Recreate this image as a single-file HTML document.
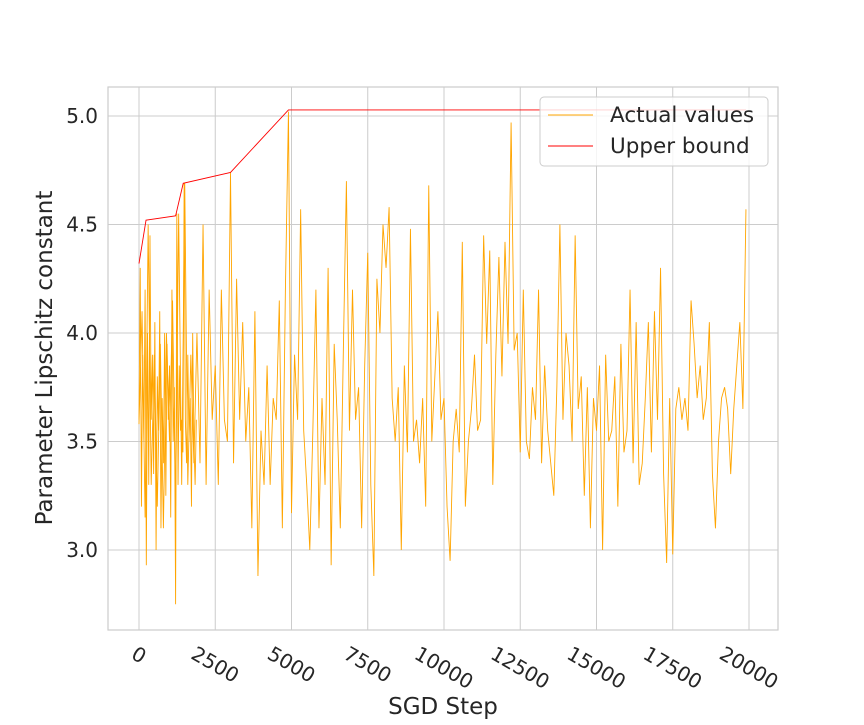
<!DOCTYPE html>
<html><head><meta charset="utf-8"><style>
body{margin:0;background:#fff;}
svg{font-family:"DejaVu Sans","Liberation Sans",sans-serif;}
</style></head><body>
<svg id="chart" width="864" height="720" xmlns="http://www.w3.org/2000/svg">
<rect width="864" height="720" fill="#fff"/>
<g id="grid"></g>
<g id="series"></g>
<g id="axes"></g>
<text x="443" y="714" text-anchor="middle" font-size="23" fill="#262626">SGD Step</text>
<text transform="translate(52,358) rotate(-90)" text-anchor="middle" font-size="23" fill="#262626">Parameter Lipschitz constant</text>
<g>
<rect x="540" y="97" width="228" height="69" rx="4" fill="#fff" fill-opacity="0.8" stroke="#ccc"/>
<line x1="548" y1="115" x2="593" y2="115" stroke="orange" stroke-width="1"/>
<text x="610" y="122" font-size="21.5" fill="#262626">Actual values</text>
<line x1="548" y1="146" x2="593" y2="146" stroke="red" stroke-width="1"/>
<text x="610" y="153" font-size="21.5" fill="#262626">Upper bound</text>
</g>
</svg>
<script>
const stepSize = 100;
const actualValues = [3.58,4.1,3.15,4.5,3.3,3.9,3.2,3.95,3.1,4.0,3.5,4.15,3.2,4.55,3.3,4.69,3.3,3.9,3.4,4.0,
3.4,4.5,3.3,4.2,3.6,3.85,3.3,4.2,3.6,3.5,4.74,3.4,4.25,3.6,4.05,3.5,3.75,3.1,4.1,2.88,
3.55,3.3,3.85,3.3,3.7,3.6,4.15,3.1,4.2,5.02,3.17,3.9,3.6,4.57,3.55,3.3,3.0,3.55,4.2,3.1,
3.7,3.3,4.3,2.93,3.95,3.6,3.1,3.92,4.7,3.55,4.2,3.6,3.75,3.1,3.85,4.37,3.3,2.88,4.25,4.0,
4.5,4.3,4.58,3.7,3.5,3.75,3.0,3.85,3.45,4.48,3.5,3.6,3.4,3.7,3.2,4.68,3.5,3.8,4.1,3.6,
3.7,3.2,2.95,3.5,3.65,3.45,4.42,3.2,3.5,3.65,3.9,3.55,3.6,4.45,3.95,4.38,3.3,3.9,4.35,3.8,
4.42,3.95,4.97,3.92,4.0,3.45,4.2,3.5,3.42,3.75,3.6,4.2,3.4,3.85,3.55,3.4,3.25,3.75,4.5,3.6,
4.0,3.85,3.5,4.45,3.65,3.8,3.25,3.75,3.1,3.7,3.55,3.85,3.0,3.9,3.5,3.55,3.8,3.2,3.95,3.45,
3.55,4.2,3.4,4.05,3.3,3.4,3.7,4.05,3.45,4.1,3.6,4.3,3.35,2.94,3.7,2.98,3.65,3.75,3.6,3.7,
3.55,4.15,3.95,3.7,3.85,3.6,3.7,4.05,3.35,3.1,3.5,3.7,3.75,3.65,3.35,3.65,3.85,4.05,3.65,4.57];
const earlyStepSize = 40;
const earlyValues = [3.6,4.3,3.2,3.9,3.5,4.2,2.93,4.0,3.3,4.45,3.6,3.9,3.35,4.05,3.0,3.8,3.55,4.1,3.1,3.7,
3.4,4.0,3.25,3.95,3.6,3.85,3.15,4.2,3.5,3.75,2.75,4.55,3.3,3.85,3.55,3.6,3.45,4.69,3.6,3.4,
3.9,3.5,3.7,3.2,4.0,3.5,3.3,3.6];
const boundSteps = [0,230,1200,1450,3000,4900,19900];
const boundValues = [4.32,4.52,4.54,4.69,4.74,5.028,5.028];
const xTicks = [0,2500,5000,7500,10000,12500,15000,17500,20000];
const yTicks = [3.0,3.5,4.0,4.5,5.0];

const NS="http://www.w3.org/2000/svg";
const L=108,R=778,T=87,B=630;
const X=s=>139+(s/20000)*610;
const Y=v=>116+(5.0-v)*217;
function mk(tag,attrs,parent){const e=document.createElementNS(NS,tag);for(const k in attrs)e.setAttribute(k,attrs[k]);parent.appendChild(e);return e;}
const grid=document.getElementById('grid'),axes=document.getElementById('axes'),ser=document.getElementById('series');
xTicks.forEach(t=>{
  const g=mk('line',{x1:X(t),x2:X(t),y1:T,y2:B,stroke:'#cccccc','stroke-width':1},grid);
  
  
  const tx=mk('text',{x:0,y:0,'font-size':20,fill:'#262626','text-anchor':'middle','dominant-baseline':'central'},axes);
  tx.textContent=t;
  
  
  const w=tx.getComputedTextLength();
  const cy=643+(w*0.5+20*0.87)/2;
  tx.setAttribute('transform',`translate(${X(t)},${cy}) rotate(30)`);
});
yTicks.forEach(t=>{
  const g=mk('line',{x1:L,x2:R,y1:Y(t),y2:Y(t),stroke:'#cccccc','stroke-width':1},grid);
  
  
  const tx=mk('text',{x:98,y:Y(t)+7,'font-size':20,fill:'#262626','text-anchor':'end'},axes);
  tx.textContent=t.toFixed(1);
  
  
});
const frame=mk('rect',{x:L,y:T,width:R-L,height:B-T,fill:'none',stroke:'#cccccc','stroke-width':1.2},axes);


const ep=mk('polyline',{points:earlyValues.map((v,i)=>X(i*earlyStepSize)+','+Y(v)).join(' '),fill:'none',stroke:'orange','stroke-width':0.9},ser);


const ap=mk('polyline',{points:actualValues.map((v,i)=>X(i*stepSize)+','+Y(v)).join(' '),fill:'none',stroke:'orange','stroke-width':0.9},ser);


const bp=mk('polyline',{points:boundSteps.map((s,i)=>X(s)+','+Y(boundValues[i])).join(' '),fill:'none',stroke:'red','stroke-width':0.9},ser);


</script>
</body></html>
